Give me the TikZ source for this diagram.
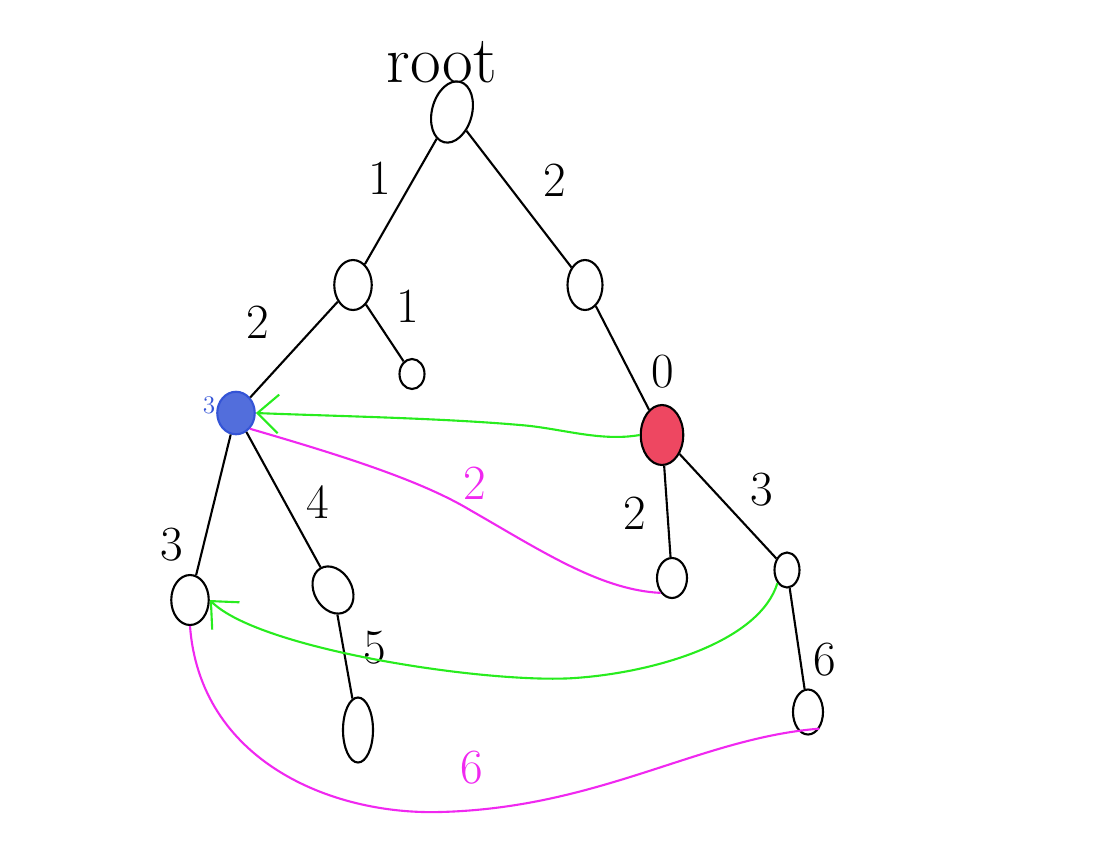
\documentclass[tikz,border=0pt]{standalone}
\usepackage{tikz}
\usetikzlibrary{shapes.geometric}
\usetikzlibrary{arrows.meta}
\definecolor{penblue}{RGB}{52,84,214}
\definecolor{penred}{RGB}{236,50,80}
\definecolor{pengreen}{RGB}{40,236,30}
\definecolor{penpink}{RGB}{240,40,240}
\tikzset{
  vert/.style={draw, ellipse, line width=1.2pt, inner sep=0pt},
  tree/.style={line width=1.2pt},
  green edge/.style={line width=1.2pt, pengreen, -{Straight Barb[length=12pt, width=22pt]}},
  pink edge/.style={line width=1.2pt, penpink},
  weight/.style={font=\fontsize{28}{28}\selectfont}
}

\begin{document}
\begin{tikzpicture}[x=0.02cm, y=-0.02cm]
    \useasboundingbox (0,0) rectangle (1116,863);
    % vertices
    \node[vert, minimum width=0.8cm, minimum height=1.25cm, rotate=-15] (root) at (452,112) {};
    \node[vert, minimum width=0.75cm, minimum height=1cm] (a) at (353,285) {};
    \node[vert, minimum width=0.7cm, minimum height=1cm] (b) at (585,285) {};
    \node[vert, minimum width=0.5cm, minimum height=0.6cm] (al) at (412,374) {};
    \node[vert, penblue, fill=penblue!85, minimum width=0.75cm, minimum height=0.85cm] (blue) at (236,413) {};
    \node[vert, penred, fill=penred!90, draw=black, minimum width=0.85cm, minimum height=1.2cm] (red) at (662,435) {};
    \node[vert, minimum width=0.75cm, minimum height=1cm] (l1) at (190,600) {};
    \node[vert, minimum width=0.75cm, minimum height=1cm, rotate=30] (l2) at (333,590) {};
    \node[vert, minimum width=0.6cm, minimum height=1.3cm] (l3) at (358,730) {};
    \node[vert, minimum width=0.6cm, minimum height=0.8cm] (rl) at (672,578) {};
    \node[vert, minimum width=0.5cm, minimum height=0.7cm] (rr) at (787,570) {};
    \node[vert, minimum width=0.6cm, minimum height=0.9cm] (br) at (808,712) {};
    % tree edges
    \draw[tree] (root) -- (a) (root) -- (b) (a) -- (al) (a) -- (blue);
    \draw[tree] (b) -- (red) (blue) -- (l1) (blue) -- (l2) (l2) -- (l3);
    \draw[tree] (red) -- (rl) (red) -- (rr) (rr) -- (br);
    % edge weights
    \node[font=\fontsize{38}{38}\selectfont] (rootlabel) at (442,62) {root};
    \node[weight] (w1) at (380,178) {1};
    \node[weight] (w2) at (555,180) {2};
    \node[weight] (w3) at (258,322) {2};
    \node[weight] (w4) at (408,306) {1};
    \node[weight] (w5) at (663,372) {0};
    \node[weight] (w6) at (172,545) {3};
    \node[weight] (w7) at (318,502) {4};
    \node[weight] (w8) at (635,513) {2};
    \node[weight] (w9) at (762,490) {3};
    \node[weight] (w10) at (375,648) {5};
    \node[weight] (w11) at (825,660) {6};
    \node[penblue, font=\Large] (bluemark) at (209,405) {3};
    % shortcut links
    \draw[green edge] (red.west) .. controls (600,442) and (560,428) .. (520,425)
      .. controls (440,418) and (330,416) .. (blue.east);
    \draw[green edge] (rr.south west) .. controls (760,640) and (660,672) .. (575,678)
      .. controls (490,684) and (260,650) .. (l1.east);
    \draw[pink edge] (blue.south east) .. controls (340,455) and (420,480) .. (470,510)
      .. controls (540,550) and (600,590) .. (rl.south west);
    \draw[pink edge] (l1.south) .. controls (200,760) and (330,815) .. (440,812)
      .. controls (600,808) and (700,738) .. (br.south east);
    \node[weight, penpink] (pw1) at (475,483) {2};
    \node[weight, penpink] (pw2) at (472,768) {6};
\end{tikzpicture}
\end{document}
